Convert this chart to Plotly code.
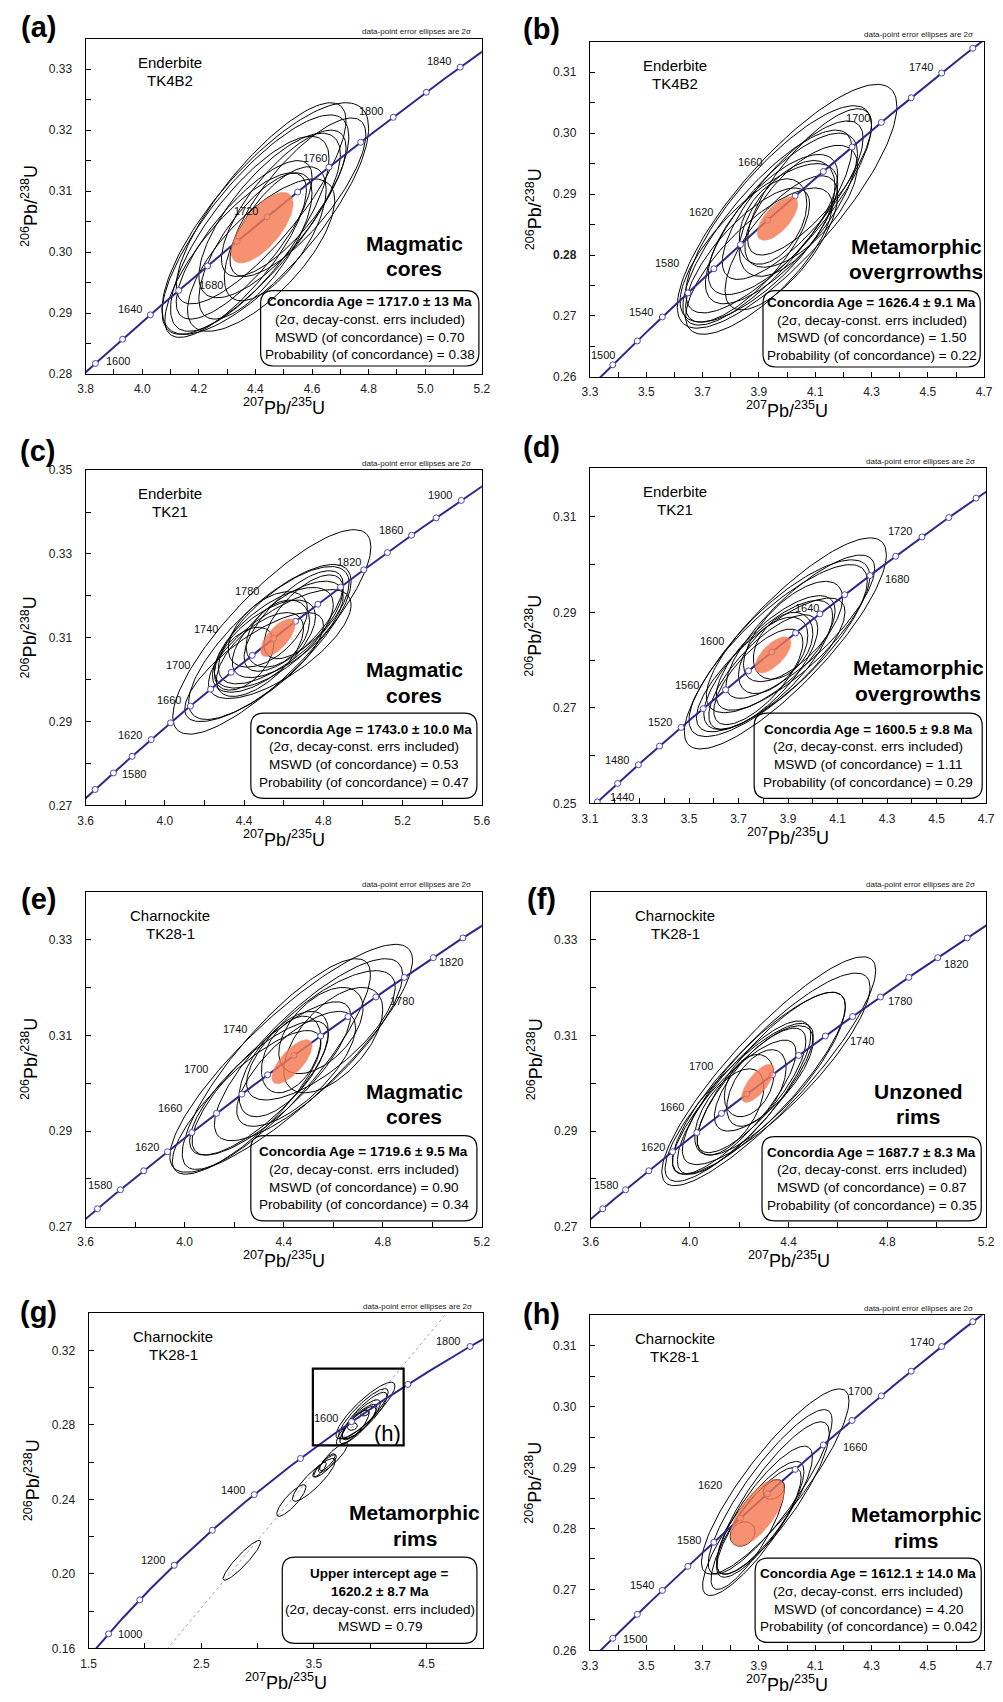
import numpy as np
import plotly.graph_objects as go

W, H = 1003, 1702
FONT = "Liberation Sans, Arial, sans-serif"

# decay constants (per Ma)
L238 = 1.55125e-4
L235 = 9.8485e-4

# ---------------- data: error ellipses (cx, cy, 2sx, 2sy, rho) ----------------
ELL_A = [
    (4.435, 0.3055, 0.365, 0.0190, 0.78), (4.40, 0.3045, 0.33, 0.0180, 0.80),
    (4.42, 0.3080, 0.30, 0.0165, 0.82), (4.38, 0.3030, 0.28, 0.0160, 0.77),
    (4.45, 0.3060, 0.25, 0.0135, 0.74), (4.36, 0.3020, 0.24, 0.0130, 0.79),
    (4.47, 0.3030, 0.18, 0.0110, 0.66), (4.40, 0.3010, 0.20, 0.0120, 0.72),
    (4.50, 0.3080, 0.22, 0.0120, 0.76), (4.33, 0.2995, 0.25, 0.0135, 0.79),
    (4.42, 0.2995, 0.26, 0.0125, 0.72), (4.55, 0.3090, 0.24, 0.0130, 0.79),
]
ELL_B = [
    (4.00, 0.2880, 0.39, 0.0200, 0.82), (3.97, 0.2875, 0.33, 0.0170, 0.81),
    (3.93, 0.2845, 0.30, 0.0160, 0.81), (3.98, 0.2860, 0.27, 0.0140, 0.76),
    (3.90, 0.2820, 0.28, 0.0130, 0.74), (4.02, 0.2890, 0.25, 0.0130, 0.78),
    (3.95, 0.2850, 0.23, 0.0115, 0.71), (3.86, 0.2800, 0.22, 0.0110, 0.76),
    (4.00, 0.2860, 0.17, 0.0095, 0.56), (3.95, 0.2855, 0.12, 0.0070, 0.42),
    (4.05, 0.2880, 0.20, 0.0100, 0.66), (3.90, 0.2790, 0.26, 0.0120, 0.76),
    (3.98, 0.2820, 0.20, 0.0110, 0.71), (4.08, 0.2920, 0.22, 0.0120, 0.78),
]
ELL_C = [
    (4.54, 0.3114, 0.50, 0.0244, 0.83), (4.53, 0.3090, 0.41, 0.0185, 0.78),
    (4.60, 0.3130, 0.33, 0.0140, 0.72), (4.55, 0.3100, 0.30, 0.0120, 0.66),
    (4.50, 0.3080, 0.26, 0.0110, 0.64), (4.62, 0.3120, 0.28, 0.0115, 0.68),
    (4.58, 0.3085, 0.36, 0.0130, 0.72), (4.48, 0.3060, 0.22, 0.0100, 0.62),
    (4.65, 0.3140, 0.25, 0.0120, 0.72), (4.45, 0.3030, 0.35, 0.0130, 0.77),
    (4.57, 0.3110, 0.16, 0.0080, 0.38), (4.70, 0.3150, 0.20, 0.0100, 0.66),
    (4.40, 0.3050, 0.15, 0.0075, 0.48), (4.52, 0.3120, 0.20, 0.0090, 0.52),
]
ELL_D = [
    (3.889, 0.2835, 0.408, 0.0221, 0.84), (3.86, 0.2820, 0.36, 0.0180, 0.81),
    (3.90, 0.2850, 0.33, 0.0160, 0.78), (3.82, 0.2790, 0.26, 0.0135, 0.76),
    (3.85, 0.2815, 0.24, 0.0120, 0.74), (3.80, 0.2775, 0.22, 0.0120, 0.76),
    (3.92, 0.2860, 0.20, 0.0105, 0.66), (3.84, 0.2810, 0.14, 0.0080, 0.52),
    (3.88, 0.2830, 0.12, 0.0070, 0.38), (3.78, 0.2765, 0.18, 0.0100, 0.72),
    (3.95, 0.2870, 0.30, 0.0150, 0.81), (3.83, 0.2790, 0.30, 0.0140, 0.79),
]
ELL_E = [
    (4.43, 0.3052, 0.49, 0.0238, 0.86), (4.37, 0.3040, 0.38, 0.0220, 0.85),
    (4.50, 0.3070, 0.38, 0.0190, 0.82), (4.55, 0.3100, 0.30, 0.0135, 0.74),
    (4.30, 0.2990, 0.28, 0.0140, 0.79), (4.45, 0.3030, 0.24, 0.0120, 0.72),
    (4.40, 0.3040, 0.18, 0.0110, 0.62), (4.55, 0.3110, 0.17, 0.0090, 0.52),
    (4.25, 0.2960, 0.30, 0.0150, 0.82), (4.35, 0.3010, 0.32, 0.0160, 0.82),
    (4.60, 0.3090, 0.20, 0.0110, 0.58), (4.43, 0.3060, 0.12, 0.0080, 0.42),
]
ELL_F = [
    (4.32, 0.3025, 0.433, 0.0239, 0.88), (4.28, 0.3000, 0.35, 0.0190, 0.85),
    (4.33, 0.3020, 0.30, 0.0170, 0.82), (4.22, 0.2970, 0.27, 0.0160, 0.82),
    (4.25, 0.2985, 0.22, 0.0130, 0.79), (4.18, 0.2950, 0.25, 0.0140, 0.82),
    (4.30, 0.3010, 0.20, 0.0110, 0.72), (4.16, 0.2940, 0.14, 0.0090, 0.58),
    (4.27, 0.2990, 0.12, 0.0080, 0.52), (4.35, 0.3030, 0.38, 0.0200, 0.85),
    (4.20, 0.2960, 0.30, 0.0165, 0.84), (4.24, 0.2995, 0.10, 0.0065, 0.35),
]
ELL_H = [
    (3.958, 0.2877, 0.262, 0.0152, 0.87), (3.94, 0.2860, 0.22, 0.0135, 0.87),
    (3.95, 0.2850, 0.20, 0.0125, 0.85), (3.92, 0.2830, 0.17, 0.0105, 0.83),
    (3.90, 0.2810, 0.15, 0.0090, 0.82), (3.953, 0.2864, 0.038, 0.0016, 0.30),
    (3.842, 0.2791, 0.044, 0.0020, 0.20), (3.88, 0.2800, 0.18, 0.0110, 0.85),
    (3.86, 0.2790, 0.13, 0.0090, 0.82),
]
# discordant analyses of panel (g) (its concordant ones are those of panel h)
ELL_G_DISC = [
    (2.861, 0.2073, 0.167, 0.0107, 0.92), (3.30, 0.2394, 0.13, 0.0085, 0.85),
    (3.50, 0.2505, 0.19, 0.0115, 0.88), (3.60, 0.2580, 0.10, 0.0060, 0.85),
    (3.67, 0.2625, 0.13, 0.0080, 0.88), (3.62, 0.2600, 0.07, 0.0045, 0.80),
    (3.55, 0.2560, 0.06, 0.0040, 0.80),
]
# concordia-age ellipses (filled)
MEAN_A = (4.4235, 0.3040, 0.110, 0.0058, 0.68)
MEAN_B = (3.966, 0.2860, 0.072, 0.0036, 0.66)
MEAN_C = (4.570, 0.3100, 0.087, 0.0045, 0.68)
MEAN_D = (3.839, 0.2811, 0.073, 0.0038, 0.66)
MEAN_E = (4.433, 0.3045, 0.0815, 0.0046, 0.72)
MEAN_F = (4.276, 0.3000, 0.066, 0.0040, 0.72)
MEAN_H = (3.895, 0.2826, 0.096, 0.0055, 0.68)

# discordia (panel g): intercept ages in Ma
DISC_AGES_G = [0.0, 1620.2]

# concordia age ticks (Ma)
MARK_20 = list(range(1400, 1961, 20))
MARK_100 = list(range(800, 2001, 100))
LAB_A = [1600, 1640, 1680, 1720, 1760, 1800, 1840]
LAB_B = [1500, 1540, 1580, 1620, 1660, 1700, 1740]
LAB_C = [1580, 1620, 1660, 1700, 1740, 1780, 1820, 1860, 1900]
LAB_D = [1440, 1480, 1520, 1560, 1600, 1640, 1680, 1720]
LAB_E = [1580, 1620, 1660, 1700, 1740, 1780, 1820]
LAB_F = [1580, 1620, 1660, 1700, 1740, 1780, 1820]
LAB_G = [1000, 1200, 1400, 1600, 1800]
LAB_H = [1500, 1540, 1580, 1620, 1660, 1700, 1740]

# y tick labels of panel (b) (0.28 printed bold in the original)
YTICKS_B = [0.26, 0.27, 0.28, 0.29, 0.30, 0.31]
YTICKTEXT_B = ["0.26", "0.27", "<b>0.28</b>", "0.29", "0.30", "0.31"]

# texts
SAMPLE = {"a": ("Enderbite", "TK4B2"), "b": ("Enderbite", "TK4B2"),
          "c": ("Enderbite", "TK21"), "d": ("Enderbite", "TK21"),
          "e": ("Charnockite", "TK28-1"), "f": ("Charnockite", "TK28-1"),
          "g": ("Charnockite", "TK28-1"), "h": ("Charnockite", "TK28-1")}
DOMAIN = {"a": ("Magmatic", "cores"), "b": ("Metamorphic", "overgrrowths"),
          "c": ("Magmatic", "cores"), "d": ("Metamorphic", "overgrowths"),
          "e": ("Magmatic", "cores"), "f": ("Unzoned", "rims"),
          "g": ("Metamorphic", "rims"), "h": ("Metamorphic", "rims")}
AGES = {"a": ("1717.0 ± 13", "0.70", "0.38"), "b": ("1626.4 ± 9.1", "1.50", "0.22"),
        "c": ("1743.0 ± 10.0", "0.53", "0.47"), "d": ("1600.5 ± 9.8", "1.11", "0.29"),
        "e": ("1719.6 ± 9.5", "0.90", "0.34"), "f": ("1687.7 ± 8.3", "0.87", "0.35"),
        "h": ("1612.1 ± 14.0", "4.20", "0.042")}
UPPER_G = ("1620.2 ± 8.7", "0.79")

# ---------------- layout / style ----------------
PANELS = [
    dict(k="a", frame=(79, 32, 482, 370), xr=(3.8, 5.2), x0=3.8, xd=0.2, xm=0.1,
         yr=(0.28, 0.335), y0=0.28, yd=0.01, ym=0.005,
         ell=ELL_A, mean=MEAN_A, marks=MARK_20, labs=LAB_A,
         offs=[(23, 2), (-20, 6), (3, -19), (-21, 6), (-14, 9), (-22, 6), (-21, 6)],
         box=(257, 286, 479, 362), plab=(31, 24)),
    dict(k="b", frame=(592, 35, 993, 373), xr=(3.3, 4.7), x0=3.3, xd=0.2, xm=0.1,
         yr=(0.26, 0.315), y0=0.26, yd=0.01, ym=0.005,
         ell=ELL_B, mean=MEAN_B, marks=MARK_20, labs=LAB_B,
         offs=[(-10, 10), (-21, 5), (-47, 6), (-67, 8), (-73, 10), (-23, 4), (-21, 6)],
         box=(768, 286, 989, 363), plab=(543, 26), yticks=(YTICKS_B, YTICKTEXT_B)),
    dict(k="c", frame=(79, 467, 482, 805), xr=(3.6, 5.6), x0=3.6, xd=0.4, xm=0.2,
         yr=(0.27, 0.35), y0=0.27, yd=0.02, ym=0.01,
         ell=ELL_C, mean=MEAN_C, marks=MARK_20, labs=LAB_C,
         offs=[(21, -1), (-21, 5), (-21, 6), (-53, 7), (-68, 9), (-71, 13), (-15, 8), (-21, 5), (-21, 5)],
         box=(247, 712, 477, 798), plab=(30, 452)),
    dict(k="d", frame=(592, 465, 995, 803), xr=(3.1, 4.7), x0=3.1, xd=0.2, xm=0.1,
         yr=(0.25, 0.3202), y0=0.25, yd=0.02, ym=0.01,
         ell=ELL_D, mean=MEAN_D, marks=MARK_20, labs=LAB_D,
         offs=[(25, 5), (-21, 5), (-21, 5), (-39, 5), (-60, 11), (-13, 6), (27, -3), (-22, 6)],
         box=(759, 712, 991, 798), plab=(543, 448)),
    dict(k="e", frame=(79, 892, 482, 1230), xr=(3.6, 5.2), x0=3.6, xd=0.4, xm=0.2,
         yr=(0.27, 0.34), y0=0.27, yd=0.02, ym=0.01,
         ell=ELL_E, mean=MEAN_E, marks=MARK_20, labs=LAB_E,
         offs=[(-20, 5), (-21, 5), (-47, 5), (-72, 6), (-86, 7), (26, -4), (18, -4)],
         box=(247, 1138, 477, 1224), plab=(31, 903)),
    dict(k="f", frame=(593, 892, 995, 1230), xr=(3.6, 5.2), x0=3.6, xd=0.4, xm=0.2,
         yr=(0.27, 0.34), y0=0.27, yd=0.02, ym=0.01,
         ell=ELL_F, mean=MEAN_F, marks=MARK_20, labs=LAB_F,
         offs=[(-20, 5), (-20, 5), (-50, 6), (-71, 9), (37, -5), (20, -4), (18, -6)],
         box=(767, 1139, 990, 1224), plab=(543, 903)),
    dict(k="g", frame=(82, 1317, 483, 1655), xr=(1.5, 5.0), x0=1.5, xd=1.0, xm=0.5,
         yr=(0.16, 0.34), y0=0.16, yd=0.04, ym=0.02,
         ell=ELL_H + ELL_G_DISC, mean=None, marks=MARK_100, labs=LAB_G,
         offs=[(21, 0), (-21, 5), (-21, 5), (-26, 4), (-22, 5)],
         box=(279, 1563, 477, 1650), plab=(31, 1320)),
    dict(k="h", frame=(592, 1319, 993, 1657), xr=(3.3, 4.7), x0=3.3, xd=0.2, xm=0.1,
         yr=(0.26, 0.315), y0=0.26, yd=0.01, ym=0.005,
         ell=ELL_H, mean=MEAN_H, marks=MARK_20, labs=LAB_H,
         offs=[(22, -1), (-20, 5), (-25, 2), (-58, 9), (32, -2), (-21, 5), (-20, 5)],
         box=(760, 1564, 990, 1649), plab=(543, 1322)),
]

CONC_COLOR = "#2B2A8C"
MEAN_COLOR = "#F47A52"


def conc(t):
    t = np.asarray(t, dtype=float)
    return np.exp(L235 * t) - 1.0, np.exp(L238 * t) - 1.0


def ellipse(cx, cy, sx, sy, rho, n=140):
    th = np.linspace(0, 2 * np.pi, n)
    x = cx + sx * np.cos(th)
    y = cy + sy * (rho * np.cos(th) + np.sqrt(1 - rho ** 2) * np.sin(th))
    return x, y


def px(x):
    return x / W


def py(y):
    return 1 - y / H


def rrect(x0, y0, x1, y1, r):
    def P(a, b):
        return f"{px(a):.5f},{py(b):.5f}"
    return (f"M {P(x0 + r, y0)} L {P(x1 - r, y0)} Q {P(x1, y0)} {P(x1, y0 + r)} "
            f"L {P(x1, y1 - r)} Q {P(x1, y1)} {P(x1 - r, y1)} L {P(x0 + r, y1)} "
            f"Q {P(x0, y1)} {P(x0, y1 - r)} L {P(x0, y0 + r)} Q {P(x0, y0)} {P(x0 + r, y0)} Z")


fig = go.Figure()
annotations = []
shapes = []
layout = {}


def ann(x, y, text, size, bold=False, xanchor="center", angle=0, color="black"):
    if bold:
        text = "<b>" + text + "</b>"
    annotations.append(dict(x=px(x), y=py(y), xref="paper", yref="paper", text=text,
                            showarrow=False, xanchor=xanchor, yanchor="middle",
                            textangle=angle, font=dict(family=FONT, size=size, color=color)))


tages = np.arange(500, 2300, 2.0)
cx_all, cy_all = conc(tages)

for i, p in enumerate(PANELS):
    n = "" if i == 0 else str(i + 1)
    xa, ya = "x" + n, "y" + n
    l, t, r, b = p["frame"]
    common = dict(ticks="inside", ticklen=5, tickwidth=1, tickcolor="black", showline=True,
                  mirror=True, linecolor="black", linewidth=1.2, showgrid=False,
                  zeroline=False, fixedrange=True,
                  tickfont=dict(family=FONT, size=12, color="#222"))
    layout["xaxis" + n] = dict(domain=[px(l), px(r)], range=list(p["xr"]), anchor=ya,
                               tick0=p["x0"], dtick=p["xd"], tickformat=".1f",
                               minor=dict(tickmode="linear", tick0=p["x0"], dtick=p["xm"],
                                          ticks="inside", ticklen=5, tickcolor="black",
                                          showgrid=False),
                               ticklabelstandoff=4, **common)
    yax = dict(domain=[py(b), py(t)], range=list(p["yr"]), anchor=xa,
               tickformat=".2f",
               minor=dict(tickmode="linear", tick0=p["y0"], dtick=p["ym"], ticks="inside",
                          ticklen=5, tickcolor="black", showgrid=False),
               ticklabelstandoff=10, **common)
    if "yticks" in p:
        yax.update(tickmode="array", tickvals=p["yticks"][0], ticktext=p["yticks"][1])
    else:
        yax.update(tick0=p["y0"], dtick=p["yd"])
    layout["yaxis" + n] = yax

    # discordia (g)
    if p["k"] == "g":
        dx, dy = conc(DISC_AGES_G)
        slope = (dy[1] - dy[0]) / (dx[1] - dx[0])
        xs = np.array([1.0, 5.5])
        fig.add_trace(go.Scatter(x=xs, y=dy[0] + slope * (xs - dx[0]), mode="lines",
                                 line=dict(color="#a0a0d8", width=1, dash="dot"),
                                 xaxis=xa, yaxis=ya, hoverinfo="skip"))

    # data ellipses
    X, Y = [], []
    for e in p["ell"]:
        ex, ey = ellipse(*e)
        X += list(ex) + [None]
        Y += list(ey) + [None]
    fig.add_trace(go.Scatter(x=X, y=Y, mode="lines", line=dict(color="black", width=1),
                             xaxis=xa, yaxis=ya, hoverinfo="skip"))

    # concordia
    fig.add_trace(go.Scatter(x=cx_all, y=cy_all, mode="lines",
                             line=dict(color=CONC_COLOR, width=2),
                             xaxis=xa, yaxis=ya, hoverinfo="skip"))
    mx, my = conc(p["marks"])
    fig.add_trace(go.Scatter(x=mx, y=my, mode="markers",
                             marker=dict(size=6, color="white",
                                         line=dict(color="#4B48B0", width=1)),
                             xaxis=xa, yaxis=ya, hoverinfo="skip"))
    # mean ellipse (on top, slightly transparent)
    if p["mean"] is not None:
        ex, ey = ellipse(*p["mean"])
        fig.add_trace(go.Scatter(x=ex, y=ey, mode="lines", fill="toself",
                                 fillcolor=MEAN_COLOR, opacity=0.82,
                                 line=dict(color=MEAN_COLOR, width=0.5),
                                 xaxis=xa, yaxis=ya, hoverinfo="skip"))

    # age labels
    lx, ly = conc(p["labs"])
    for age, xx, yy, (ox, oy) in zip(p["labs"], lx, ly, p["offs"]):
        annotations.append(dict(x=xx, y=yy, xref=xa, yref=ya, text=str(age), showarrow=False,
                                xshift=ox, yshift=oy, font=dict(family=FONT, size=11, color="#111")))

    # texts
    cxp = (l + r) / 2
    plx, ply = p["plab"]
    ann(plx, ply - 4, f"({p['k']})", 29, bold=True)
    ann(r - 9, t - 7, "data-point error ellipses are 2σ", 8, xanchor="right", color="#222")
    s1, s2 = SAMPLE[p["k"]]
    ann(l + 86, t + 24, s1, 15)
    ann(l + 86, t + 42, s2, 15)
    d1, d2 = DOMAIN[p["k"]]
    dy0 = 206 if p["k"] in "ab" else 201
    ann(r - 69, t + dy0, d1, 21, bold=True)
    ann(r - 69, t + dy0 + 26, d2, 21, bold=True)
    bx0, by0, bx1, by1 = p["box"]
    shapes.append(dict(type="path", path=rrect(bx0, by0, bx1, by1, 13), xref="paper", yref="paper",
                       line=dict(color="black", width=1.2)))
    bc = (by0 + by1) / 2
    bxc = (bx0 + bx1) / 2
    sp = 17.8
    if p["k"] == "g":
        lines = [("Upper intercept age =", True), (UPPER_G[0] + " Ma", True),
                 ("(2σ, decay-const. errs included)", False), ("MSWD = " + UPPER_G[1], False)]
    else:
        a_, m_, pr_ = AGES[p["k"]]
        lines = [(f"Concordia Age = {a_} Ma", True), ("(2σ, decay-const. errs included)", False),
                 (f"MSWD (of concordance) = {m_}", False),
                 (f"Probability (of concordance) = {pr_}", False)]
    for j, (txt, bd) in enumerate(lines):
        ann(bxc, bc + (j - 1.5) * sp, txt, 13.5, bold=bd)
    # axis titles
    ann(cxp, b + 33, "<sup>207</sup>Pb/<sup>235</sup>U", 18)
    ann(l - 57, (t + b) / 2, "<sup>206</sup>Pb/<sup>238</sup>U", 18, angle=-90)

    if p["k"] == "g":
        shapes.append(dict(type="rect", xref=xa, yref=ya, x0=3.491, x1=4.297, y0=0.2690, y1=0.3102,
                           line=dict(color="black", width=2.2)))
        annotations.append(dict(x=4.158, y=0.2753, xref=xa, yref=ya, text="(h)", showarrow=False,
                                font=dict(family=FONT, size=22, color="black")))

fig.update_layout(width=W, height=H, margin=dict(l=0, r=0, t=0, b=0),
                  paper_bgcolor="white", plot_bgcolor="white", showlegend=False,
                  annotations=annotations, shapes=shapes, **layout)
fig.write_html("out.html")
